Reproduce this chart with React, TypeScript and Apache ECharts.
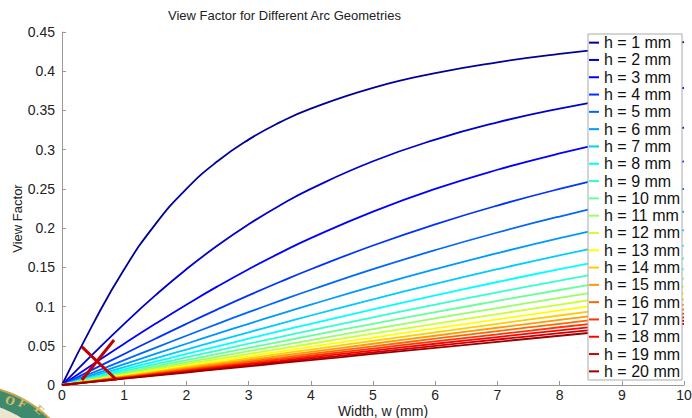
import React, { useEffect, useRef } from "react";
import * as echarts from "echarts";

// Width samples (mm)
const WIDTHS = [0, 0.5, 1, 1.5, 2, 2.5, 3, 3.5, 4, 5, 6, 7, 8, 9, 10];
// Arc heights (mm)
const HEIGHTS = [1, 2, 3, 4, 5, 6, 7, 8, 9, 10, 11, 12, 13, 14, 15, 16, 17, 18, 19, 20];

const VF_H1 = [0, 0.078, 0.1476, 0.2048, 0.25, 0.2852, 0.3128, 0.3348, 0.3524, 0.3789, 0.3976, 0.4114, 0.422, 0.4304, 0.4372];
const VF_H2 = [0, 0.0396, 0.078, 0.1142, 0.1476, 0.1778, 0.2048, 0.2288, 0.25, 0.2852, 0.3128, 0.3348, 0.3524, 0.3669, 0.3789];
const VF_H3 = [0, 0.0265, 0.0526, 0.078, 0.1024, 0.1257, 0.1476, 0.1681, 0.1872, 0.2211, 0.25, 0.2744, 0.2952, 0.3128, 0.328];
const VF_H4 = [0, 0.0199, 0.0396, 0.059, 0.078, 0.0964, 0.1142, 0.1313, 0.1476, 0.1778, 0.2048, 0.2288, 0.25, 0.2687, 0.2852];
const VF_H5 = [0, 0.0159, 0.0317, 0.0474, 0.0628, 0.078, 0.0928, 0.1072, 0.1211, 0.1476, 0.172, 0.1944, 0.2148, 0.2333, 0.25];
const VF_H6 = [0, 0.0133, 0.0265, 0.0396, 0.0526, 0.0654, 0.078, 0.0903, 0.1024, 0.1257, 0.1476, 0.1681, 0.1872, 0.2048, 0.2211];
const VF_H7 = [0, 0.0114, 0.0227, 0.034, 0.0452, 0.0562, 0.0672, 0.078, 0.0886, 0.1092, 0.1289, 0.1476, 0.1653, 0.1819, 0.1974];
const VF_H8 = [0, 0.0099, 0.0199, 0.0298, 0.0396, 0.0493, 0.059, 0.0686, 0.078, 0.0964, 0.1142, 0.1313, 0.1476, 0.1631, 0.1778];
const VF_H9 = [0, 0.0088, 0.0177, 0.0265, 0.0352, 0.0439, 0.0526, 0.0611, 0.0696, 0.0862, 0.1024, 0.1181, 0.1331, 0.1476, 0.1614];
const VF_H10 = [0, 0.008, 0.0159, 0.0238, 0.0317, 0.0396, 0.0474, 0.0551, 0.0628, 0.078, 0.0928, 0.1072, 0.1211, 0.1346, 0.1476];
const VF_H11 = [0, 0.0072, 0.0145, 0.0217, 0.0289, 0.036, 0.0431, 0.0502, 0.0572, 0.0711, 0.0848, 0.0981, 0.111, 0.1236, 0.1358];
const VF_H12 = [0, 0.0066, 0.0133, 0.0199, 0.0265, 0.033, 0.0396, 0.0461, 0.0526, 0.0654, 0.078, 0.0903, 0.1024, 0.1142, 0.1257];
const VF_H13 = [0, 0.0061, 0.0122, 0.0183, 0.0244, 0.0305, 0.0366, 0.0426, 0.0486, 0.0605, 0.0722, 0.0837, 0.095, 0.1061, 0.1169];
const VF_H14 = [0, 0.0057, 0.0114, 0.017, 0.0227, 0.0283, 0.034, 0.0396, 0.0452, 0.0562, 0.0672, 0.078, 0.0886, 0.099, 0.1092];
const VF_H15 = [0, 0.0053, 0.0106, 0.0159, 0.0212, 0.0265, 0.0317, 0.037, 0.0422, 0.0526, 0.0628, 0.073, 0.083, 0.0928, 0.1024];
const VF_H16 = [0, 0.005, 0.0099, 0.0149, 0.0199, 0.0248, 0.0298, 0.0347, 0.0396, 0.0493, 0.059, 0.0686, 0.078, 0.0873, 0.0964];
const VF_H17 = [0, 0.0047, 0.0094, 0.014, 0.0187, 0.0234, 0.028, 0.0327, 0.0373, 0.0465, 0.0556, 0.0646, 0.0736, 0.0824, 0.0911];
const VF_H18 = [0, 0.0044, 0.0088, 0.0133, 0.0177, 0.0221, 0.0265, 0.0308, 0.0352, 0.0439, 0.0526, 0.0611, 0.0696, 0.078, 0.0862];
const VF_H19 = [0, 0.0042, 0.0084, 0.0126, 0.0167, 0.0209, 0.0251, 0.0292, 0.0334, 0.0416, 0.0499, 0.058, 0.066, 0.074, 0.0819];
const VF_H20 = [0, 0.004, 0.008, 0.0119, 0.0159, 0.0199, 0.0238, 0.0278, 0.0317, 0.0396, 0.0474, 0.0551, 0.0628, 0.0704, 0.078];

const VIEW_FACTORS = [
  VF_H1, VF_H2, VF_H3, VF_H4, VF_H5, VF_H6, VF_H7, VF_H8, VF_H9, VF_H10,
  VF_H11, VF_H12, VF_H13, VF_H14, VF_H15, VF_H16, VF_H17, VF_H18, VF_H19, VF_H20,
];

const COLORS = [
  "#000099", "#0000CC", "#0000FF", "#0033FF", "#0066FF", "#0099FF", "#00CCFF", "#00FFFF", "#33FFCC", "#66FF99",
  "#99FF66", "#CCFF33", "#FFFF00", "#FFCC00", "#FF9900", "#FF6600", "#FF3300", "#FF0000", "#CC0000", "#990000",
];

// Red "X" annotation (data coordinates)
const CROSS_A = [[0.316, 0.049], [0.879, 0.0064]];
const CROSS_B = [[0.32, 0.0064], [0.836, 0.0574]];

const FONT = "'Liberation Sans', Arial, Helvetica, sans-serif";

export default function App() {
  const ref = useRef<HTMLDivElement>(null);

  useEffect(() => {
    const chart = echarts.init(ref.current!, null, { renderer: "svg" });
    const names = HEIGHTS.map((h) => `h = ${h} mm`);
    const curveSeries = HEIGHTS.map((h, i) => ({
      type: "line",
      name: names[i],
      data: WIDTHS.map((w, j) => [w, VIEW_FACTORS[i][j]]),
      smooth: 0.5,
      symbol: "none",
      lineStyle: { width: 1.8, color: COLORS[i] },
      itemStyle: { color: COLORS[i] },
      z: 3,
      silent: true,
    }));
    const crossSeries = [CROSS_A, CROSS_B].map((d, i) => ({
      type: "line",
      name: `cross${i}`,
      data: d,
      symbol: "none",
      lineStyle: { width: 3, color: "#C00000" },
      z: 5,
      silent: true,
    }));

    const sealText = (t: string, x: number, y: number, rot: number) => ({
      type: "text",
      x,
      y,
      rotation: rot,
      silent: true,
      z: -9,
      style: {
        text: t,
        fill: "#D9BC62",
        font: "bold 11px 'DejaVu Serif', serif",
        align: "center",
        verticalAlign: "middle",
      },
    });

    chart.setOption({
      animation: false,
      backgroundColor: "#fff",
      title: {
        text: "View Factor for Different Arc Geometries",
        left: 168,
        top: 9,
        padding: 0,
        textStyle: { fontSize: 13, fontWeight: "normal", color: "#222", fontFamily: FONT },
      },
      grid: { left: 62, right: 8, top: 32, bottom: 33, containLabel: false, outerBoundsMode: "none" },
      legend: {
        data: names,
        orient: "vertical",
        left: 588,
        top: 34,
        icon: "rect",
        itemWidth: 10,
        itemHeight: 2,
        itemGap: 0,
        padding: [0, 2, 0, 1],
        borderColor: "#aaa",
        borderWidth: 1,
        backgroundColor: "#fff",
        selectedMode: false,
        textStyle: { fontSize: 16, color: "#111", fontFamily: FONT, lineHeight: 17.3 },
        z: 10,
      },
      xAxis: {
        type: "value",
        min: 0,
        max: 10,
        interval: 1,
        name: "Width, w (mm)",
        nameLocation: "middle",
        nameGap: 19,
        nameMoveOverlap: false,
        nameTextStyle: { fontSize: 14, lineHeight: 14, color: "#222", fontFamily: FONT, padding: [0, 0, 0, 20] },
        axisLine: { lineStyle: { color: "#999" } },
        axisTick: { inside: true, length: 4, lineStyle: { color: "#999" } },
        axisLabel: { fontSize: 14, lineHeight: 14, margin: 3, color: "#222", fontFamily: FONT },
        splitLine: { show: false },
      },
      yAxis: {
        type: "value",
        min: 0,
        max: 0.45,
        interval: 0.05,
        name: "View Factor",
        nameLocation: "middle",
        nameGap: 38,
        nameMoveOverlap: false,
        nameTextStyle: { fontSize: 13, color: "#222", fontFamily: FONT, padding: [0, 0, 0, -20] },
        axisLine: { show: true, lineStyle: { color: "#999" } },
        axisTick: { show: true, inside: true, length: 4, lineStyle: { color: "#999" } },
        axisLabel: { fontSize: 14, margin: 7, color: "#222", fontFamily: FONT },
        splitLine: { show: false },
      },
      graphic: [
        { type: "circle", shape: { cx: -33, cy: 503, r: 119 }, style: { fill: "#C9A54A" }, z: -10, silent: true },
        { type: "circle", shape: { cx: -33, cy: 503, r: 117 }, style: { fill: "#3D8A6E" }, z: -10, silent: true },
        { type: "circle", shape: { cx: -33, cy: 503, r: 101 }, style: { fill: "#EDE6CF" }, z: -10, silent: true },
        sealText("O", 10, 401, -0.35),
        sealText("F", 22, 404, -0.5),
        sealText("E", 39, 410, -0.75),
      ],
      series: [...curveSeries, ...crossSeries],
    });
    return () => chart.dispose();
  }, []);

  return (
    <div
      ref={ref}
      style={{ position: "fixed", left: 0, top: 0, width: 692, height: 418, background: "#fff" }}
    />
  );
}
